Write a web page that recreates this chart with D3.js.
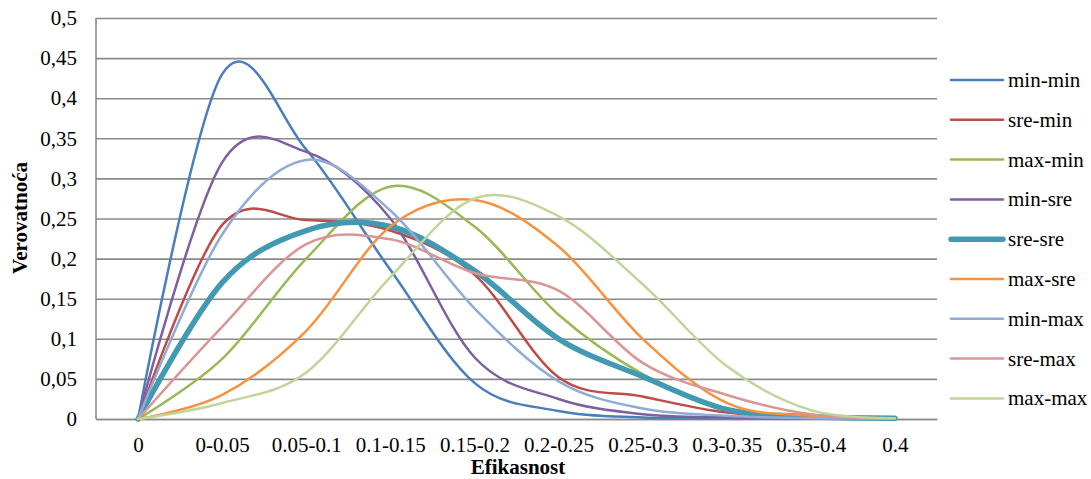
<!DOCTYPE html>
<html><head><meta charset="utf-8">
<script src="https://cdn.jsdelivr.net/npm/d3@7"></script>
<style>body{margin:0;background:#fff}svg{display:block}
svg text{font-family:"Liberation Serif","Times New Roman",Times,"DejaVu Serif",serif;}</style>
</head><body><svg id="c" width="1091" height="479"></svg>
<script>
const categories = ["0","0-0.05","0.05-0.1","0.1-0.15","0.15-0.2","0.2-0.25","0.25-0.3","0.3-0.35","0.35-0.4","0.4"];
const yTicks = [0,0.05,0.1,0.15,0.2,0.25,0.3,0.35,0.4,0.45,0.5];
const seriesNames = ["min-min","sre-min","max-min","min-sre","sre-sre","max-sre","min-max","sre-max","max-max"];
const minMin = [0, 0.43, 0.336, 0.186, 0.045, 0.010, 0.002, 0.001, 0.001, 0.001];
const sreMin = [0, 0.242, 0.248, 0.235, 0.180, 0.052, 0.028, 0.008, 0.002, 0.001];
const maxMin = [0, 0.075, 0.200, 0.290, 0.240, 0.130, 0.056, 0.012, 0.003, 0.001];
const minSre = [0, 0.320, 0.333, 0.250, 0.077, 0.025, 0.006, 0.002, 0.001, 0.001];
const sreSre = [0, 0.170, 0.235, 0.240, 0.185, 0.100, 0.053, 0.012, 0.003, 0.001];
const maxSre = [0, 0.030, 0.110, 0.240, 0.273, 0.215, 0.100, 0.020, 0.004, 0.001];
const minMax = [0, 0.230, 0.323, 0.260, 0.138, 0.047, 0.013, 0.004, 0.001, 0.001];
const sreMax = [0, 0.115, 0.218, 0.224, 0.182, 0.160, 0.070, 0.030, 0.006, 0.001];
const maxMax = [0, 0.020, 0.058, 0.177, 0.275, 0.253, 0.168, 0.066, 0.011, 0.001];
const seriesValues = [minMin, sreMin, maxMin, minSre, sreSre, maxSre, minMax, sreMax, maxMax];
const colors = ["#4A7EBB","#BE4B48","#98B954","#7D60A0","#4299B2","#F69240","#8FABD6","#D99694","#BFD59A"];
const widths = [2.5,2.5,2.5,2.5,5.5,2.5,2.5,2.5,2.5];

const svg = d3.select("#c");
const L=96, R=937, T=18, B=419;
const x = d3.scalePoint().domain(categories).range([L,R]).padding(0.5);
const y = d3.scaleLinear().domain([0,0.5]).range([B,T]);

// grid + y axis
const ya = svg.append("g").attr("transform",`translate(${L},0)`)
  .call(d3.axisLeft(y).tickValues(yTicks).tickSize(-(R-L)).tickPadding(19)
    .tickFormat(d => String(+d.toFixed(2)).replace(".", ",")));
ya.select(".domain").remove();
ya.attr("font-family",null);
ya.selectAll(".tick line").attr("stroke","#8a8a8a").attr("stroke-width",1.6);
ya.selectAll(".tick text").attr("font-size",21).attr("fill","#000");
svg.append("line").attr("x1",L).attr("x2",L).attr("y1",T).attr("y2",B)
  .attr("stroke","#8a8a8a").attr("stroke-width",1.6);

// x axis
const xa = svg.append("g").attr("transform",`translate(0,${B})`)
  .call(d3.axisBottom(x).tickSize(0).tickPadding(18));
xa.attr("font-family",null);
xa.select(".domain").attr("stroke","#8a8a8a").attr("stroke-width",1.6);
xa.selectAll(".tick text").attr("font-size",21).attr("fill","#000");

// lines
const line = d3.line().x((d,i)=>x(categories[i])).y(d=>y(d)).curve(d3.curveCardinal.tension(0));
seriesValues.forEach((vals,k)=>{
  svg.append("path").datum(vals).attr("d",line).attr("fill","none")
    .attr("stroke",colors[k]).attr("stroke-width",widths[k])
    .attr("stroke-linecap","round").attr("stroke-linejoin","round");
});

// titles
svg.append("text").attr("x",518).attr("y",474).attr("text-anchor","middle")
  .attr("font-size",21).attr("font-weight","bold").text("Efikasnost");
svg.append("text").attr("transform","translate(27,218) rotate(-90)").attr("text-anchor","middle")
  .attr("font-size",21).attr("font-weight","bold").text("Verovatnoća");

// legend
const lg = svg.append("g");
seriesNames.forEach((n,k)=>{
  const yy = 80 + k*39.8;
  lg.append("line").attr("x1",951).attr("x2",1003).attr("y1",yy).attr("y2",yy)
    .attr("stroke",colors[k]).attr("stroke-width",widths[k]).attr("stroke-linecap","round");
  lg.append("text").attr("x",1008).attr("y",yy).attr("dy","0.33em")
    .attr("font-size",21).attr("fill","#000").text(n);
});
</script></body></html>
